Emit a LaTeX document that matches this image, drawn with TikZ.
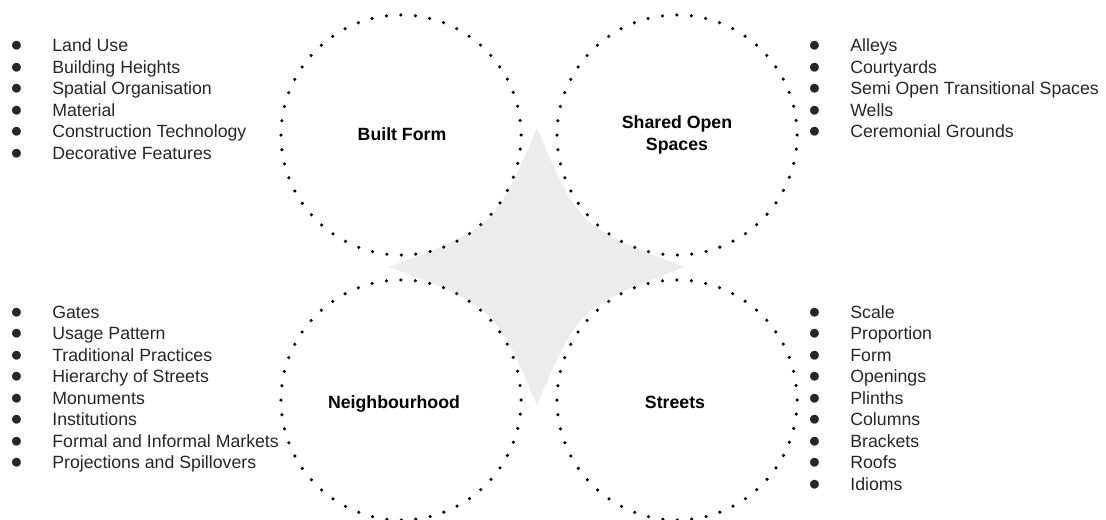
\documentclass[tikz,border=0pt]{standalone}
\usepackage{fontspec}
\setmainfont{Liberation Sans}
\newcommand{\itm}[1]{\makebox[29.9pt][l]{\fontsize{14.6}{14.6}\selectfont ●}#1}

\begin{document}
\begin{tikzpicture}[x=0.025cm,y=-0.025cm,
    ring/.style={circle,draw,minimum size=6cm,inner sep=0pt,line width=2.5pt,
                 line cap=round,dash pattern=on 0pt off 10.32pt},
    lbl/.style={font=\fontsize{12.6}{15.6}\selectfont\bfseries,align=center,inner sep=0pt},
    item/.style={anchor=base west,inner sep=0pt,text=black!85,font=\fontsize{12.6}{15}\selectfont}]

  \useasboundingbox (0,0) rectangle (1106,520);

  % grey star behind the rings
  \fill[gray!15] (537,128) .. controls (579,227) .. (685,267)
                 .. controls (579,307) .. (537,405)
                 .. controls (495,307) .. (389,267)
                 .. controls (495,227) .. (537,128) -- cycle;

  \begin{scope}[every node/.style={ring}]
    \node (bf) at (401,135) {};
    \node (so) at (677,135) {};
    \node (nb) at (401,400) {};
    \node (st) at (677,400) {};
  \end{scope}

  \node[lbl,anchor=base] (bflbl) at (402,140) {Built Form};
  \node[lbl] (solbl) at (677,135) {Shared Open\\Spaces};
  \node[lbl,anchor=base] (nblbl) at (394,408) {Neighbourhood};
  \node[lbl,anchor=base] (stlbl) at (675,408) {Streets};

  % built form
  \begin{scope}[every node/.style={item}]
    \node (bf1) at (10,51)  {\itm{Land Use}};
    \node (bf2) at (10,73)  {\itm{Building Heights}};
    \node (bf3) at (10,94)  {\itm{Spatial Organisation}};
    \node (bf4) at (10,116) {\itm{Material}};
    \node (bf5) at (10,137) {\itm{Construction Technology}};
    \node (bf6) at (10,159) {\itm{Decorative Features}};

    % shared open spaces
    \node (so1) at (808,51)  {\itm{Alleys}};
    \node (so2) at (808,73)  {\itm{Courtyards}};
    \node (so3) at (808,94)  {\itm{Semi Open Transitional Spaces}};
    \node (so4) at (808,116) {\itm{Wells}};
    \node (so5) at (808,137) {\itm{Ceremonial Grounds}};

    % neighbourhood
    \node (nb1) at (10,318)   {\itm{Gates}};
    \node (nb2) at (10,339.5) {\itm{Usage Pattern}};
    \node (nb3) at (10,361)   {\itm{Traditional Practices}};
    \node (nb4) at (10,382.5) {\itm{Hierarchy of Streets}};
    \node (nb5) at (10,404)   {\itm{Monuments}};
    \node (nb6) at (10,425.5) {\itm{Institutions}};
    \node (nb7) at (10,447)   {\itm{Formal and Informal Markets}};
    \node (nb8) at (10,468.5) {\itm{Projections and Spillovers}};

    % streets
    \node (st1) at (808,318)   {\itm{Scale}};
    \node (st2) at (808,339.5) {\itm{Proportion}};
    \node (st3) at (808,361)   {\itm{Form}};
    \node (st4) at (808,382.5) {\itm{Openings}};
    \node (st5) at (808,404)   {\itm{Plinths}};
    \node (st6) at (808,425.5) {\itm{Columns}};
    \node (st7) at (808,447)   {\itm{Brackets}};
    \node (st8) at (808,468.5) {\itm{Roofs}};
    \node (st9) at (808,490)   {\itm{Idioms}};
  \end{scope}

\end{tikzpicture}
\end{document}
